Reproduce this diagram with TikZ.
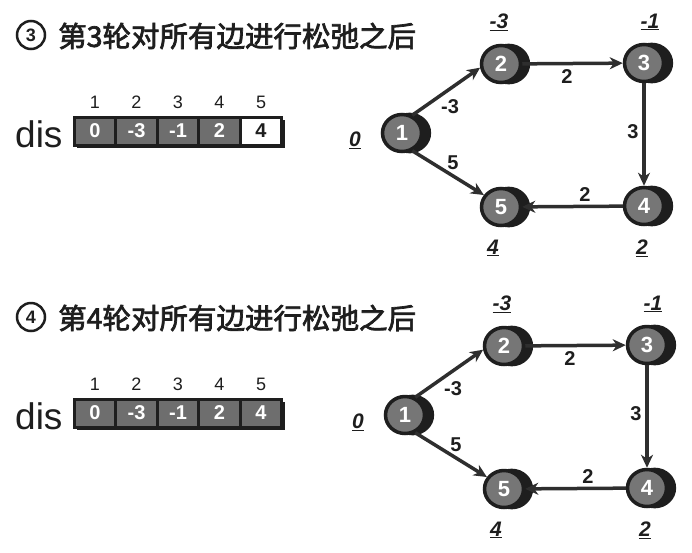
\documentclass[tikz,border=0pt]{standalone}
\usepackage{fontspec}
\setmainfont{Liberation Sans}
\newfontfamily\cjk{Noto Sans CJK SC}[FakeBold=2.5]
\usetikzlibrary{arrows.meta,shapes.geometric,shadows}
\definecolor{ink}{HTML}{1E1E1E}
\definecolor{cellgray}{HTML}{6E6E6E}
\definecolor{nodegray}{HTML}{767676}
\definecolor{edgecol}{HTML}{2E2E2E}
\tikzset{
 every node/.style={inner sep=0pt},
 circnum/.style={circle, draw=ink, line width=2.5pt, minimum size=28pt, font=\bfseries\fontsize{18}{18}\selectfont, text=ink},
 header/.style={anchor=west, font=\cjk\fontsize{28.5}{30}\selectfont, text=ink},
 dislab/.style={anchor=base west, font=\fontsize{37}{40}\selectfont, text=ink},
 idx/.style={anchor=base, font=\fontsize{18}{20}\selectfont, text=ink},
 cell/.style={rectangle, draw=ink, line width=3pt, fill=cellgray, minimum width=41.5pt, minimum height=28pt, text=white, font=\bfseries\fontsize{20}{20}\selectfont, drop shadow={shadow xshift=3pt, shadow yshift=-3pt, fill=ink, opacity=1}},
 vert/.style={ellipse, draw=ink, line width=3.5pt, fill=nodegray, minimum width=39pt, minimum height=37pt, text=white, font=\bfseries\fontsize{22}{22}\selectfont, drop shadow={shadow xshift=7pt, shadow yshift=0pt, shadow scale=1.1, fill=ink, opacity=1}},
 edge/.style={draw=edgecol, line width=3.5pt, -{Stealth[length=13pt,width=12pt,inset=4pt]}},
 wt/.style={font=\bfseries\fontsize{20}{20}\selectfont, text=ink},
 dist/.style={font=\bfseries\itshape\fontsize{21}{21}\selectfont, text=ink},
}
\newcommand{\panel}[5]{%
\begin{scope}[shift={(0,#1)}, name prefix=p#2-]
 \node[circnum] (cn) at (31,35) {#2};
 \node[header] (hd) at (58,36) {第#2轮对所有边进行松弛之后};
 \node[dislab] (dis) at (15,147) {dis};
 \foreach \i/\v in {1/0,2/-3,3/-1,4/2} { \node[cell] (d\i) at ({95+41.5*(\i-1)},131) {\v}; }
 \node[cell, fill=#3, text=#4] (d5) at (261,131) {4};
 \foreach \i in {1,...,5} { \node[idx] (i\i) at ({95+41.5*(\i-1)},108) {\i}; }
\end{scope}
\begin{scope}[shift={(#5,#1)}, name prefix=p#2-]
 \node[vert] (n1) at (402,133) {1};
 \node[vert] (n2) at (501,64) {2};
 \node[vert] (n3) at (644,63) {3};
 \node[vert] (n4) at (644,206) {4};
 \node[vert] (n5) at (501,207) {5};
 \draw[edge] (n1.60) -- (n2.190);
 \draw[edge] (n2) -- (n3);
 \draw[edge] (n3) -- (n4);
 \draw[edge] (n4) -- (n5);
 \draw[edge] (n1.-60) -- (n5.145);
 \node[wt] (w12) at (450,107) {-3};
 \node[wt] (w23) at (567,77) {2};
 \node[wt] (w34) at (633,132) {3};
 \node[wt] (w15) at (453,163) {5};
 \node[wt] (w45) at (585,195) {2};
 \node[dist] (s1) at (355,140) {\underline{0}};
 \node[dist] (s2) at (499,22) {\underline{-3}};
 \node[dist] (s3) at (650,22) {\underline{-1}};
 \node[dist] (s4) at (642,248) {\underline{2}};
 \node[dist] (s5) at (493,248) {\underline{4}};
\end{scope}}
\begin{document}
\begin{tikzpicture}[x=1pt,y=-1pt]
 \fill[white] (0,0) rectangle (692,552);
 \useasboundingbox (0,0) rectangle (692,552);
 \panel{0}{3}{white}{ink}{0}
 \panel{282}{4}{cellgray}{white}{3}
\end{tikzpicture}
\end{document}
